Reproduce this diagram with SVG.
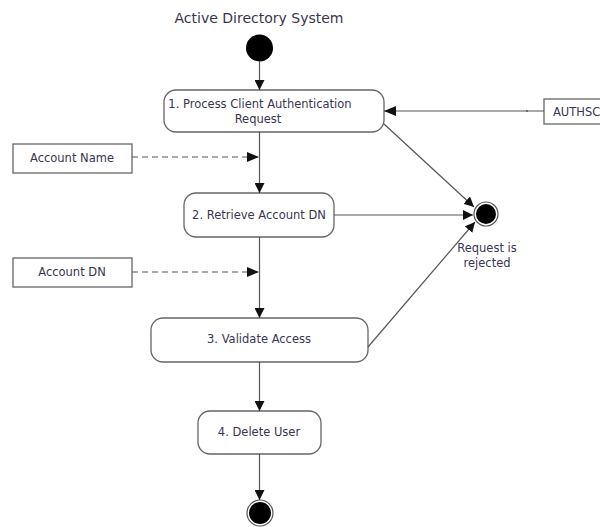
<svg xmlns="http://www.w3.org/2000/svg" width="600" height="527" viewBox="0 0 600 527">
<defs>
<marker id="arr" viewBox="0 0 10 10" refX="10" refY="5" markerWidth="10" markerHeight="10" markerUnits="userSpaceOnUse" orient="auto">
<path d="M0,0 L10,5 L0,10 z" fill="#111"/>
</marker>
<marker id="arrL" viewBox="0 0 12 10" refX="12" refY="5" markerWidth="12" markerHeight="10" markerUnits="userSpaceOnUse" orient="auto">
<path d="M0,0 L12,5 L0,10 z" fill="#111"/>
</marker>
</defs>
<style>
text{font-family:"DejaVu Sans","Liberation Sans",sans-serif;fill:#3a3550;text-anchor:middle}
.t{font-size:14px}
.n{font-size:11.5px}
.act{fill:#fff;stroke:#666;stroke-width:1.3}
.obj{fill:#fff;stroke:#666;stroke-width:1.3}
.ln{fill:none;stroke:#555;stroke-width:1.2}
.dash{fill:none;stroke:#555;stroke-width:1.2;stroke-dasharray:6,4}
</style>
<rect width="600" height="527" fill="#fff"/>
<text class="t" x="259" y="23">Active Directory System</text>
<g id="start"><circle cx="259.5" cy="48" r="13.5" fill="#000"/></g>
<g id="n1"><rect class="act" x="164" y="90" width="220" height="42" rx="12"/>
<text class="n" x="260" y="108">1. Process Client Authentication</text>
<text class="n" x="258" y="123">Request</text></g>
<g id="authsc"><rect class="obj" x="544" y="99" width="70" height="25"/>
<text class="n" x="553" y="116" style="text-anchor:start">AUTHSC</text></g>
<g id="accname"><rect class="obj" x="13" y="144" width="119" height="29"/>
<text class="n" x="72" y="162">Account Name</text></g>
<g id="n2"><rect class="act" x="184" y="193" width="150" height="44" rx="12"/>
<text class="n" x="259" y="219">2. Retrieve Account DN</text></g>
<g id="accdn"><rect class="obj" x="13" y="258" width="119" height="29"/>
<text class="n" x="72" y="276">Account DN</text></g>
<g id="n3"><rect class="act" x="151" y="318" width="217" height="44" rx="12"/>
<text class="n" x="259" y="343">3. Validate Access</text></g>
<g id="n4"><rect class="act" x="198" y="411" width="123" height="43" rx="12"/>
<text class="n" x="259" y="436">4. Delete User</text></g>
<g id="reject"><circle cx="486" cy="214" r="12" fill="#fff" stroke="#555" stroke-width="1.2"/>
<circle cx="486" cy="214" r="10" fill="#000"/>
<text class="n" x="487" y="252">Request is</text>
<text class="n" x="487" y="267">rejected</text></g>
<g id="end"><circle cx="260" cy="513" r="13" fill="#fff" stroke="#555" stroke-width="1.2"/>
<circle cx="260" cy="513" r="11" fill="#000"/></g>
<g id="connectors">
<line class="ln" x1="259.5" y1="61" x2="259.5" y2="90" marker-end="url(#arr)"/>
<line class="ln" x1="544" y1="111" x2="384" y2="111" marker-end="url(#arrL)"/>
<circle cx="527" cy="111" r="1" fill="#555"/>
<line class="dash" x1="132" y1="157" x2="259" y2="157" marker-end="url(#arrL)"/>
<line class="ln" x1="259.5" y1="132" x2="259.5" y2="193" marker-end="url(#arr)"/>
<line class="ln" x1="384" y1="124" x2="474" y2="207" marker-end="url(#arr)"/>
<line class="ln" x1="334" y1="215" x2="473" y2="215" marker-end="url(#arr)"/>
<line class="dash" x1="132" y1="272" x2="259" y2="272" marker-end="url(#arrL)"/>
<line class="ln" x1="259.5" y1="237" x2="259.5" y2="318" marker-end="url(#arr)"/>
<line class="ln" x1="368" y1="347" x2="475" y2="222" marker-end="url(#arr)"/>
<line class="ln" x1="259.5" y1="362" x2="259.5" y2="411" marker-end="url(#arr)"/>
<line class="ln" x1="259.5" y1="454" x2="259.5" y2="500" marker-end="url(#arr)"/>
</g>
</svg>
